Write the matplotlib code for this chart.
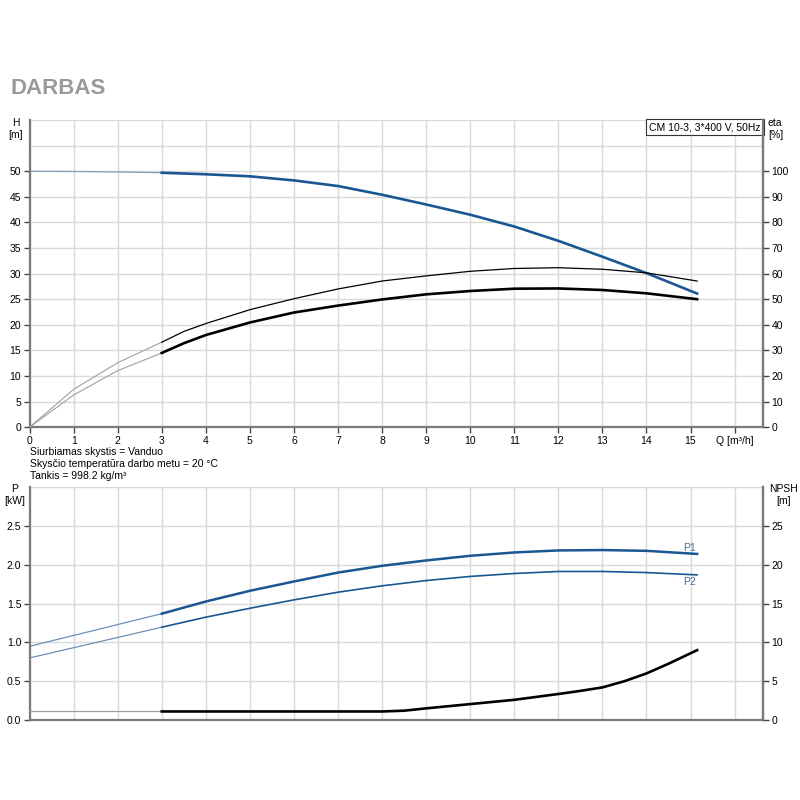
import numpy as np
import matplotlib
matplotlib.use("Agg")
import matplotlib.pyplot as plt

plt.rcParams['font.family'] = ['Liberation Sans', 'DejaVu Sans']

# pump curve data
q_main = [3, 3.5, 4, 5, 6, 7, 8, 9, 10, 11, 12, 13, 14, 15.15]
q_ext = [0, 1, 2, 3]

h_main = [49.7, 49.55, 49.4, 49.0, 48.2, 47.1, 45.4, 43.5, 41.5, 39.2, 36.4, 33.3, 30.1, 26.1]
h_ext = [50.0, 49.95, 49.85, 49.7]

eta_main = [29.0, 32.8, 36.0, 40.9, 44.8, 47.5, 49.9, 51.9, 53.2, 54.1, 54.2, 53.6, 52.3, 50.0]
eta_ext = [0, 12.6, 22.1, 29.0]
eta2_main = [33.2, 37.4, 40.5, 45.9, 50.2, 54.0, 57.1, 59.1, 60.9, 62.0, 62.3, 61.7, 60.3, 57.1]
eta2_ext = [0, 14.8, 25.2, 33.2]

q_p = [3, 4, 5, 6, 7, 8, 9, 10, 11, 12, 13, 14, 15.15]
p1_main = [1.37, 1.527, 1.665, 1.785, 1.90, 1.987, 2.056, 2.116, 2.159, 2.185, 2.19, 2.18, 2.14]
p1_ext = [0.95, 1.37]
p2_main = [1.196, 1.325, 1.44, 1.548, 1.647, 1.729, 1.797, 1.85, 1.888, 1.914, 1.914, 1.90, 1.87]
p2_ext = [0.80, 1.196]
q_pext = [0, 3]

q_npsh = [3, 5, 7, 8, 8.5, 9, 10, 11, 12, 12.5, 13, 13.5, 14, 14.5, 15.15]
npsh = [1.1, 1.1, 1.1, 1.1, 1.2, 1.5, 2.05, 2.6, 3.35, 3.75, 4.2, 5.0, 6.0, 7.25, 9.0]
npsh_ext = [1.1, 1.1]

xticklabels = [str(i) for i in range(16)] + ['Q [m\u00b3/h]']

blue = '#1a5792'
spine_c = '#7a7a7a'
grid_c = '#d9d9d9'
fs = 7.5

fig = plt.figure(figsize=(8, 8), dpi=100)

def style(ax, ylim, ymax_lab, step):
    ax.set_xlim(0, 16.65)
    ax.set_ylim(0, ylim)
    ax.set_xticks(range(17))
    ax.set_yticks(np.arange(0, ymax_lab + 0.001, step))
    ax.set_yticks(np.arange(ymax_lab + step, ylim + 0.001, step), minor=True)
    ax.grid(True, which='both', color=grid_c, linewidth=1.0)
    ax.set_axisbelow(True)
    for s in ['left', 'bottom', 'right']:
        ax.spines[s].set_color(spine_c)
        ax.spines[s].set_linewidth(1.6)
    ax.spines['top'].set_visible(False)
    ax.tick_params(labelsize=fs, length=4, width=1, color='#444444', pad=2)
    ax.tick_params(which='minor', length=0)

# ---- top: H and eta ----
ax1 = fig.add_axes([0.037, 0.466, 0.917, 0.384])
style(ax1, 60, 50, 5)
ax1.set_xticklabels(xticklabels)
ax1.plot(q_ext, h_ext, color='#7f9fc2', lw=0.9)
ax1.plot(q_main, h_main, color=blue, lw=1.9)

ax1r = ax1.twinx()
ax1r.set_ylim(0, 120)
ax1r.set_yticks(range(0, 101, 10))
ax1r.tick_params(labelsize=fs, length=4, width=1, color='#444444', pad=2)
for s in ['left', 'bottom', 'top']:
    ax1r.spines[s].set_visible(False)
ax1r.spines['right'].set_color(spine_c)
ax1r.spines['right'].set_linewidth(1.6)
ax1r.plot(q_ext, eta2_ext, color='#a0a0a0', lw=0.8)
ax1r.plot(q_ext, eta_ext, color='#a0a0a0', lw=0.8)
ax1r.plot(q_main, eta2_main, color='black', lw=0.9)
ax1r.plot(q_main, eta_main, color='black', lw=1.9)

ax1.text(0.997, 0.993, 'CM 10-3, 3*400 V, 50Hz', transform=ax1.transAxes,
         ha='right', va='top', fontsize=fs, zorder=5,
         bbox=dict(boxstyle='square,pad=0.3', facecolor='white',
                   edgecolor='#333333', linewidth=0.8))

# ---- bottom: P and NPSH ----
ax2 = fig.add_axes([0.037, 0.1, 0.917, 0.291])
style(ax2, 3.0, 2.5, 0.5)
ax2.set_yticklabels(['0.0', '0.5', '1.0', '1.5', '2.0', '2.5'])
ax2.set_xticklabels([])
ax2.tick_params(axis='x', length=0)
ax2.plot(q_pext, p1_ext, color='#6f8fb5', lw=0.9)
ax2.plot(q_pext, p2_ext, color='#6f8fb5', lw=0.9)
ax2.plot(q_p, p1_main, color=blue, lw=1.8)
ax2.plot(q_p, p2_main, color=blue, lw=1.2)
ax2.text(14.97, 2.22, 'P1', color='#3a6ea5', fontsize=fs, ha='center', va='center')
ax2.text(14.97, 1.78, 'P2', color='#3a6ea5', fontsize=fs, ha='center', va='center')

ax2r = ax2.twinx()
ax2r.set_ylim(0, 30)
ax2r.set_yticks(range(0, 26, 5))
ax2r.tick_params(labelsize=fs, length=4, width=1, color='#444444', pad=2)
for s in ['left', 'bottom', 'top']:
    ax2r.spines[s].set_visible(False)
ax2r.spines['right'].set_color(spine_c)
ax2r.spines['right'].set_linewidth(1.6)
ax2r.plot(q_pext, npsh_ext, color='#a0a0a0', lw=0.9)
ax2r.plot(q_npsh, npsh, color='black', lw=1.9)

# ---- texts ----
fig.text(0.013, 0.883, 'DARBAS', fontsize=16, fontweight='bold', color='#999999',
         ha='left', va='baseline')
fig.text(0.02, 0.852, 'H\n[m]', fontsize=fs, ha='center', va='top', linespacing=1.2)
fig.text(0.960, 0.852, 'eta\n[%]', fontsize=fs, ha='left', va='top', linespacing=1.2)
fig.text(0.018, 0.395, 'P\n[kW]', fontsize=fs, ha='center', va='top', linespacing=1.2)
fig.text(0.979, 0.395, 'NPSH\n[m]', fontsize=fs, ha='center', va='top', linespacing=1.2)

fig.text(0.038, 0.435, 'Siurbiamas skystis = Vanduo', fontsize=fs, va='center')
fig.text(0.038, 0.4205, 'Skys\u010dio temperat\u016bra darbo metu = 20 \u00b0C', fontsize=fs, va='center')
fig.text(0.038, 0.405, 'Tankis = 998.2 kg/m\u00b3', fontsize=fs, va='center')

fig.savefig('out.png', dpi=100, facecolor='white')
